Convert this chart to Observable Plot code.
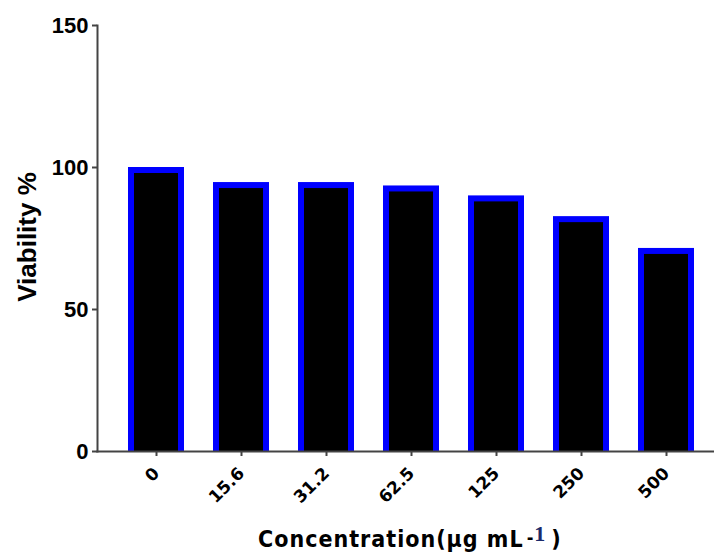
<!DOCTYPE html>
<html>
<head>
<meta charset="utf-8">
<script src="https://cdn.jsdelivr.net/npm/d3@7"></script>
<script src="https://cdn.jsdelivr.net/npm/@observablehq/plot@0.6"></script>
<style>
  html, body { margin: 0; padding: 0; background: white; }
  #chart svg { display: block; }
</style>
</head>
<body>
<div id="chart"></div>
<script>
const categories = ["0", "15.6", "31.2", "62.5", "125", "250", "500"];
const viability = [100, 94.7, 94.7, 93.5, 90, 82.7, 71.5];
const yTicks = [0, 50, 100, 150];
const yTitle = "Viability %";
const xTitle = "Concentration(µg mL";

const data = categories.map((c, i) => ({c, v: viability[i]}));

const chart = Plot.plot({
  width: 714,
  height: 554,
  marginLeft: 97,
  marginRight: 0,
  marginTop: 25,
  marginBottom: 103,
  style: {background: "white", color: "black"},
  x: {domain: categories, paddingInner: 0.344, paddingOuter: 0.289, align: 0.61, label: null},
  y: {domain: [0, 150], label: null},
  marks: [
    Plot.barY(data, {x: "c", y: "v", fill: "#0000ff"}),
    Plot.barY(data, {x: "c", y: "v", fill: "black", insetTop: 6, insetLeft: 6, insetRight: 6}),
    Plot.frame({anchor: "left", stroke: "#444", strokeWidth: 2}),
    Plot.frame({anchor: "bottom", stroke: "#444", strokeWidth: 2}),
    Plot.axisY({ticks: yTicks, tickSize: 5, tickPadding: 4, stroke: "#444", strokeWidth: 2,
      fontSize: 22, fontWeight: "bold", fontFamily: "Liberation Sans, Arial, sans-serif", label: null}),
    Plot.axisX({tickRotate: -45, tickSize: 5, tickPadding: 14, stroke: "#444", strokeWidth: 2,
      fontSize: 17, fontWeight: "bold", fontFamily: "DejaVu Sans, Verdana, sans-serif", label: null})
  ]
});

const svg = d3.select(chart);
svg.append("text")
  .attr("transform", "translate(36,237) rotate(-90)")
  .attr("text-anchor", "middle")
  .attr("font-family", "Liberation Sans, Arial, sans-serif")
  .attr("font-weight", "bold")
  .attr("font-size", 26)
  .attr("fill", "black")
  .style("white-space", "pre")
  .text(yTitle);

const xt = svg.append("text")
  .attr("x", 258)
  .attr("y", 547)
  .attr("text-anchor", "start")
  .attr("font-family", "DejaVu Sans Condensed, DejaVu Sans, sans-serif")
  .attr("font-stretch", "condensed")
  .attr("font-weight", "bold")
  .attr("font-size", 23)
  .attr("letter-spacing", 1)
  .attr("fill", "black");
xt.append("tspan").text(xTitle);
xt.append("tspan").attr("dx", 3).attr("font-size", 18).attr("dy", -3).text("-");
xt.append("tspan").attr("font-family", "Liberation Serif, Times New Roman, serif").attr("font-size", 22)
  .attr("font-stretch", "normal").attr("fill", "#1a2a6a").attr("dy", -3).text("1");
xt.append("tspan").attr("dx", 5).attr("dy", 6).text(")");

document.getElementById("chart").appendChild(chart);
</script>
</body>
</html>
